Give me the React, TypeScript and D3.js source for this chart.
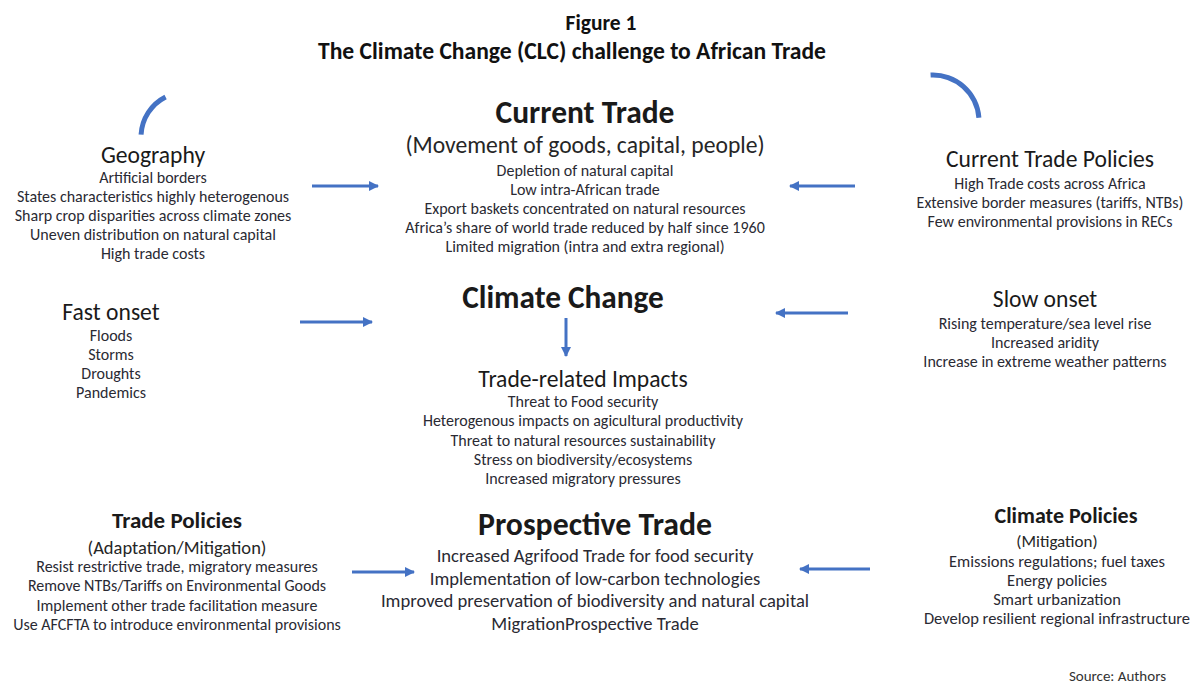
import React, { useRef, useEffect } from "react";
import { select, arc } from "d3";

// text content of the figure
const figureTitle = ["Figure 1", "The Climate Change (CLC) challenge to African Trade"];
const geographyItems = ["Artificial borders", "States characteristics highly  heterogenous", "Sharp crop disparities across climate zones", "Uneven distribution on natural capital", "High trade costs"];
const currentTradeItems = ["Depletion of natural capital", "Low intra-African trade", "Export baskets concentrated on natural resources", "Africa\u2019s share of world trade reduced by half since 1960", "Limited migration (intra and extra regional)"];
const currentPolicyItems = ["High Trade costs across Africa", "Extensive border measures (tariffs, NTBs)", "Few environmental provisions in RECs"];
const fastOnsetItems = ["Floods", "Storms", "Droughts", "Pandemics"];
const slowOnsetItems = ["Rising temperature/sea level rise", "Increased aridity", "Increase in extreme weather patterns"];
const impactItems = ["Threat to Food security", "Heterogenous impacts on agicultural productivity", "Threat to natural resources sustainability", "Stress on biodiversity/ecosystems", "Increased migratory pressures"];
const tradePolicyItems = ["Resist restrictive trade, migratory measures", "Remove NTBs/Tariffs on Environmental Goods", "Implement other trade facilitation measure", "Use AFCFTA to introduce environmental provisions"];
const prospectiveItems = ["Increased Agrifood Trade for food security", "Implementation of low-carbon technologies", "Improved preservation of biodiversity and natural capital", "MigrationProspective Trade"];
const climatePolicyItems = ["Emissions regulations; fuel taxes", "Energy policies", "Smart urbanization", "Develop resilient regional infrastructure"];

const FONT = "Carlito, Calibri, Lato, sans-serif";
const BLUE = "#4472C4";

// block layout: x centre (tx for a shifted title), title baseline, sizes, line step
const blocks = [
  { title: "Geography", sub: null, items: geographyItems, x: 153, y: 163, ts: 23.6, tb: false, is: 16, y0: 183, step: 19.1 },
  { title: "Current Trade", sub: "(Movement of goods, capital, people)", items: currentTradeItems, x: 585, y: 123, ts: 31.5, tb: true, ss: 23.6, sy: 153, is: 16, y0: 176, step: 19 },
  { title: "Current Trade Policies", sub: null, items: currentPolicyItems, x: 1050, y: 167, ts: 23.6, tb: false, is: 16, y0: 189, step: 19 },
  { title: "Fast onset", sub: null, items: fastOnsetItems, x: 111, y: 320, ts: 23.6, tb: false, is: 16, y0: 341, step: 19 },
  { title: "Climate Change", sub: null, items: [], x: 563, y: 308, ts: 31.3, tb: true, is: 16, y0: 0, step: 0 },
  { title: "Slow onset", sub: null, items: slowOnsetItems, x: 1045, y: 307, ts: 23.6, tb: false, is: 16, y0: 329, step: 18.8 },
  { title: "Trade-related Impacts", sub: null, items: impactItems, x: 583, y: 387, ts: 23.6, tb: false, is: 16, y0: 407, step: 19.3 },
  { title: "Trade Policies", sub: "(Adaptation/Mitigation)", items: tradePolicyItems, x: 177, y: 528, ts: 23, tb: true, ss: 18.5, sy: 554, is: 16, y0: 572, step: 19.3 },
  { title: "Prospective Trade", sub: null, items: prospectiveItems, x: 595, y: 535, ts: 31.8, tb: true, is: 18.6, y0: 562, step: 22.7 },
  { title: "Climate Policies", tx: 1066, sub: "(Mitigation)", items: climatePolicyItems, x: 1057, y: 523, ts: 22, tb: true, ss: 17, sy: 547, is: 16.5, y0: 567, step: 19 },
];

// arrows [x1, y1, x2, y2]
const arrows = [
  [312, 186, 378, 186],
  [855, 186, 790, 186],
  [300, 322, 372, 322],
  [848, 313, 776, 313],
  [566, 318, 566, 356],
  [352, 572, 414, 572],
  [870, 569, 800, 569],
];

// arcs: centre, radius, start/end angle in degrees
const arcs = [
  { cx: 186, cy: 137, r: 45, a0: -87, a1: -27 },
  { cx: 933, cy: 121, r: 46, a0: -3, a1: 86 },
];

export default function App() {
  const svgRef = useRef<SVGSVGElement>(null);

  useEffect(() => {
    const svg = select(svgRef.current);
    svg.selectAll("*").remove();

    svg.append("rect").attr("width", 1195).attr("height", 686).attr("fill", "#fff");

    const defs = svg.append("defs");
    defs.append("marker")
      .attr("id", "head")
      .attr("viewBox", "0 0 10 10")
      .attr("refX", 9)
      .attr("refY", 5)
      .attr("markerWidth", 3.4)
      .attr("markerHeight", 3.4)
      .attr("markerUnits", "strokeWidth")
      .attr("orient", "auto")
      .append("path")
      .attr("d", "M0,0 L10,5 L0,10 Z")
      .attr("fill", BLUE);

    const g = svg.append("g").attr("font-family", FONT).attr("text-anchor", "middle");

    g.append("text").text(figureTitle[0])
      .attr("x", 601).attr("y", 30).attr("font-size", 21.5).attr("font-weight", "bold").attr("fill", "#111");
    g.append("text").text(figureTitle[1])
      .attr("x", 572).attr("y", 59).attr("font-size", 23.6).attr("font-weight", "bold").attr("fill", "#111");

    blocks.forEach((b: any) => {
      g.append("text").text(b.title)
        .attr("x", b.tx ?? b.x).attr("y", b.y)
        .attr("font-size", b.ts)
        .attr("font-weight", b.tb ? "bold" : "normal")
        .attr("fill", "#1a1a1a");
      if (b.sub) {
        g.append("text").text(b.sub)
          .attr("x", b.x).attr("y", b.sy)
          .attr("font-size", b.ss)
          .attr("fill", "#262626");
      }
      b.items.forEach((t: string, i: number) => {
        g.append("text").text(t)
          .attr("x", b.x).attr("y", b.y0 + i * b.step)
          .attr("font-size", b.is)
          .attr("fill", "#2a2a33");
      });
    });

    svg.append("g").selectAll("line").data(arrows).join("line")
      .attr("x1", d => d[0]).attr("y1", d => d[1])
      .attr("x2", d => d[2]).attr("y2", d => d[3])
      .attr("stroke", BLUE).attr("stroke-width", 3)
      .attr("marker-end", "url(#head)");

    const arcGen = arc<any>()
      .innerRadius(d => d.r - 2.5)
      .outerRadius(d => d.r + 2.5)
      .startAngle(d => d.a0 * Math.PI / 180)
      .endAngle(d => d.a1 * Math.PI / 180);

    svg.append("g").selectAll("path").data(arcs).join("path")
      .attr("transform", d => `translate(${d.cx},${d.cy})`)
      .attr("d", arcGen)
      .attr("fill", BLUE);

    svg.append("text").text("Source: Authors")
      .attr("x", 1166).attr("y", 681)
      .attr("font-family", FONT).attr("font-size", 15)
      .attr("text-anchor", "end").attr("fill", "#333");
  }, []);

  return (
    <svg ref={svgRef} width={1195} height={686}
      style={{ position: "absolute", left: 0, top: 0, display: "block" }} />
  );
}
